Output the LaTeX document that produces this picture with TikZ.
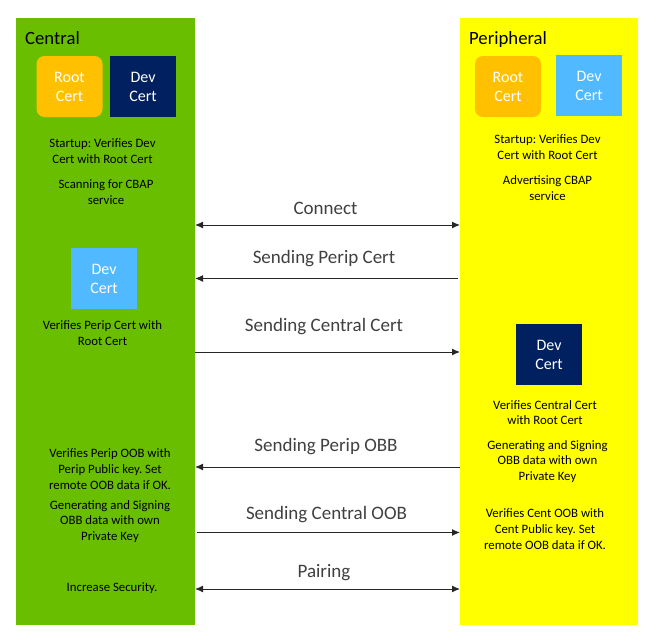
\documentclass[tikz,border=0pt]{standalone}
\usepackage{fontspec}
\setmainfont{Carlito}
\usetikzlibrary{arrows.meta}
\frenchspacing
\definecolor{cgreen}{RGB}{106,190,0}
\definecolor{cyellow}{RGB}{255,255,0}
\definecolor{cgold}{RGB}{255,192,0}
\definecolor{cnavy}{RGB}{0,32,96}
\definecolor{clight}{RGB}{80,185,255}
\definecolor{cline}{RGB}{38,38,38}
\definecolor{clabel}{RGB}{64,64,64}
\tikzset{
  column/.style={draw=none,minimum width=#1,minimum height=607pt,anchor=north west,inner sep=0pt,outer sep=0pt},
  certbox/.style={minimum width=66pt,minimum height=61pt,inner sep=0pt,text=white,align=center,font=\fontsize{16}{19}\selectfont},
  heading/.style={anchor=base west,inner sep=0pt,font=\fontsize{18.7}{22}\selectfont},
  note/.style={align=center,inner sep=0pt,font=\fontsize{12.8}{15.7}\selectfont},
  msg/.style={inner sep=0pt,text=clabel,font=\fontsize{19}{22}\selectfont},
  arr/.style={draw=cline,line width=1pt,-{Latex[length=8pt,width=7pt]}},
  darr/.style={draw=cline,line width=1pt,{Latex[length=8pt,width=7pt]}-{Latex[length=8pt,width=7pt]}}
}
\begin{document}
\begin{tikzpicture}[x=1pt,y=-1pt]
\useasboundingbox[fill=white] (0,0) rectangle (657,640);
% columns
\node[column=179pt,fill=cgreen] (cent) at (16,18) {};
\node[column=178pt,fill=cyellow] (peri) at (460,18) {};
% headings
\node[heading] (centT) at (25,44) {Central};
\node[heading] (periT) at (469,44.3) {Peripheral};
% cert boxes
\node[certbox,fill=cgold,rounded corners=8pt] (cRoot) at (69.5,86.5) {Root\\Cert};
\node[certbox,fill=cnavy] (cDev) at (143,86.5) {Dev\\Cert};
\node[certbox,fill=cgold,rounded corners=8pt] (pRoot) at (508,86.5) {Root\\Cert};
\node[certbox,fill=clight] (pDev) at (589,85.5) {Dev\\Cert};
\node[certbox,fill=clight] (cDev2) at (104,278.5) {Dev\\Cert};
\node[certbox,fill=cnavy] (pDev2) at (549,354.5) {Dev\\Cert};
% notes central
\node[note] (n1) at (102.5,151) {Startup: Verifies Dev\\Cert with Root Cert};
\node[note] (n2) at (106,192) {Scanning for CBAP\\service};
\node[note] (n3) at (102.5,333) {Verifies Perip Cert with\\Root Cert};
\node[note] (n4) at (110,469) {Verifies Perip OOB with\\Perip Public key. Set\\remote OOB data if OK.};
\node[note] (n5) at (110,521.5) {Generating and Signing\\OBB data with own\\Private Key};
\node[note] (n6) at (112,588) {Increase Security.};
% notes peripheral
\node[note] (m1) at (547.5,147) {Startup: Verifies Dev\\Cert with Root Cert};
\node[note] (m2) at (547.5,188) {Advertising CBAP\\service};
\node[note] (m3) at (545,412.5) {Verifies Central Cert\\with Root Cert};
\node[note] (m4) at (547.5,461.5) {Generating and Signing\\OBB data with own\\Private Key};
\node[note] (m5) at (545,529) {Verifies Cent OOB with\\Cent Public key. Set\\remote OOB data if OK.};
% message rows
\coordinate (r1) at (0,225);
\coordinate (r2) at (0,278.5);
\coordinate (r3) at (0,352);
\coordinate (r4) at (0,467);
\coordinate (r5) at (0,532.5);
\coordinate (r6) at (0,589);
\draw[darr] (cent.east |- r1) -- (peri.west |- r1);
\draw[arr] ([xshift=-2.5pt]peri.west |- r2) -- (cent.east |- r2);
\draw[arr] (cent.east |- r3) -- (peri.west |- r3);
\draw[arr] (peri.west |- r4) -- (cent.east |- r4);
\draw[arr] ([xshift=1.5pt]cent.east |- r5) -- (peri.west |- r5);
\draw[darr] (cent.east |- r6) -- (peri.west |- r6);
% message labels
\node[msg] (l1) at (325.5,208) {Connect};
\node[msg] (l2) at (324,259) {Sending Perip Cert};
\node[msg] (l3) at (324,327) {Sending Central Cert};
\node[msg] (l4) at (326,447) {Sending Perip OBB};
\node[msg] (l5) at (326.5,515) {Sending Central OOB};
\node[msg] (l6) at (324,572.5) {Pairing};
\end{tikzpicture}
\end{document}
